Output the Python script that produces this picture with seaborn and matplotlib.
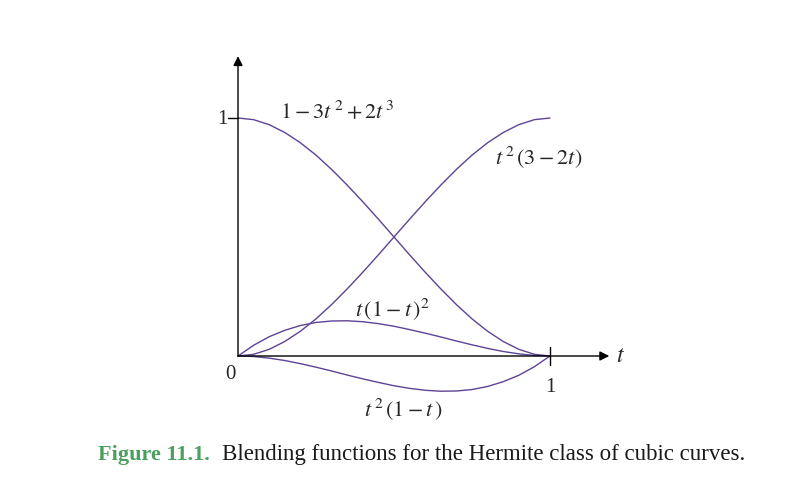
import pandas as pd
import seaborn as sns
import matplotlib.pyplot as plt

t = [0.0, 0.05, 0.1, 0.15, 0.2, 0.25, 0.3, 0.35, 0.4, 0.45, 0.5,
     0.55, 0.6, 0.65, 0.7, 0.75, 0.8, 0.85, 0.9, 0.95, 1.0]
h_start = [1.0, 0.993, 0.972, 0.939, 0.896, 0.844, 0.784, 0.718, 0.648, 0.575, 0.5,
           0.425, 0.352, 0.282, 0.216, 0.156, 0.104, 0.061, 0.028, 0.007, 0.0]
h_end = [0.0, 0.007, 0.028, 0.061, 0.104, 0.156, 0.216, 0.282, 0.352, 0.425, 0.5,
         0.575, 0.648, 0.718, 0.784, 0.844, 0.896, 0.939, 0.972, 0.993, 1.0]
h_tan0 = [0.0, 0.045, 0.081, 0.108, 0.128, 0.141, 0.147, 0.148, 0.144, 0.136, 0.125,
          0.111, 0.096, 0.080, 0.063, 0.047, 0.032, 0.019, 0.009, 0.002, 0.0]
h_tan1 = [0.0, -0.002, -0.009, -0.019, -0.032, -0.047, -0.063, -0.080, -0.096, -0.111, -0.125,
          -0.136, -0.144, -0.148, -0.147, -0.141, -0.128, -0.108, -0.081, -0.045, 0.0]

curve_names = ['1-3t^2+2t^3', 't^2(3-2t)', 't(1-t)^2', 't^2(1-t)']
curve_labels = [r'$1-3t^{\,2}+2t^{\,3}$', r'$t^{\,2}\,(3-2t)$',
                r'$t\,(1-t\,)^2$', r'$t^{\,2}\,(1-t\,)$']

frames = []
for name, vals in zip(curve_names, [h_start, h_end, h_tan0, h_tan1]):
    frames.append(pd.DataFrame({'t': t, 'value': vals, 'curve': name}))
df = pd.concat(frames, ignore_index=True)

sns.set_style('white')
plt.rcParams['font.family'] = ['Liberation Serif', 'DejaVu Serif']
plt.rcParams['mathtext.fontset'] = 'stix'

purple = '#5e4396'

fig = plt.figure(figsize=(8.09, 5.02), dpi=100)
ax = fig.add_axes([0, 0, 1, 1])
# pixel mapping: t=0 -> x 238, t=1 -> x 550 ; y=0 -> 357, y=1 -> 119 (from top)
ax.set_xlim(-238 / 312, (809 - 238) / 312)
ax.set_ylim((357 - 502) / 238, 357 / 238)
ax.axis('off')

sns.lineplot(data=df, x='t', y='value', hue='curve',
             palette=[purple] * 4, legend=False, linewidth=1.0, ax=ax)

# axes with arrows
ax.annotate('', xy=(1.19, 0), xytext=(0, 0),
            arrowprops=dict(arrowstyle='-|>', color='black', lw=1.0,
                            mutation_scale=14, shrinkA=0, shrinkB=0))
ax.annotate('', xy=(0, 1.26), xytext=(0, 0),
            arrowprops=dict(arrowstyle='-|>', color='black', lw=1.0,
                            mutation_scale=14, shrinkA=0, shrinkB=0))
ax.plot([-0.032, 0], [1, 1], color='black', lw=1.0)
ax.plot([1, 1], [-0.038, 0.038], color='black', lw=1.0)

ax.text(-0.025, -0.075, '0', fontsize=15, ha='center', va='center')
ax.text(1.0, -0.13, '1', fontsize=15, ha='center', va='center')
ax.text(-0.05, 1.0, '1', fontsize=15, ha='center', va='center')
ax.text(1.225, 0.0, r'$t$', fontsize=17, ha='center', va='center')

ax.text(0.135, 1.03, curve_labels[0], fontsize=16, ha='left', va='center')
ax.text(0.825, 0.84, curve_labels[1], fontsize=16, ha='left', va='center')
ax.text(0.375, 0.20, curve_labels[2], fontsize=16, ha='left', va='center')
ax.text(0.405, -0.22, curve_labels[3], fontsize=16, ha='left', va='center')

fig.text(98 / 809, 1 - 455 / 502, 'Figure 11.1.', fontsize=16, fontweight='bold',
         color='#4aa05e', ha='left', va='center')
fig.text(222 / 809, 1 - 455 / 502, 'Blending functions for the Hermite class of cubic curves.',
         fontsize=16.5, color='#1a1a1a', ha='left', va='center')

plt.savefig('out.png', dpi=100)
